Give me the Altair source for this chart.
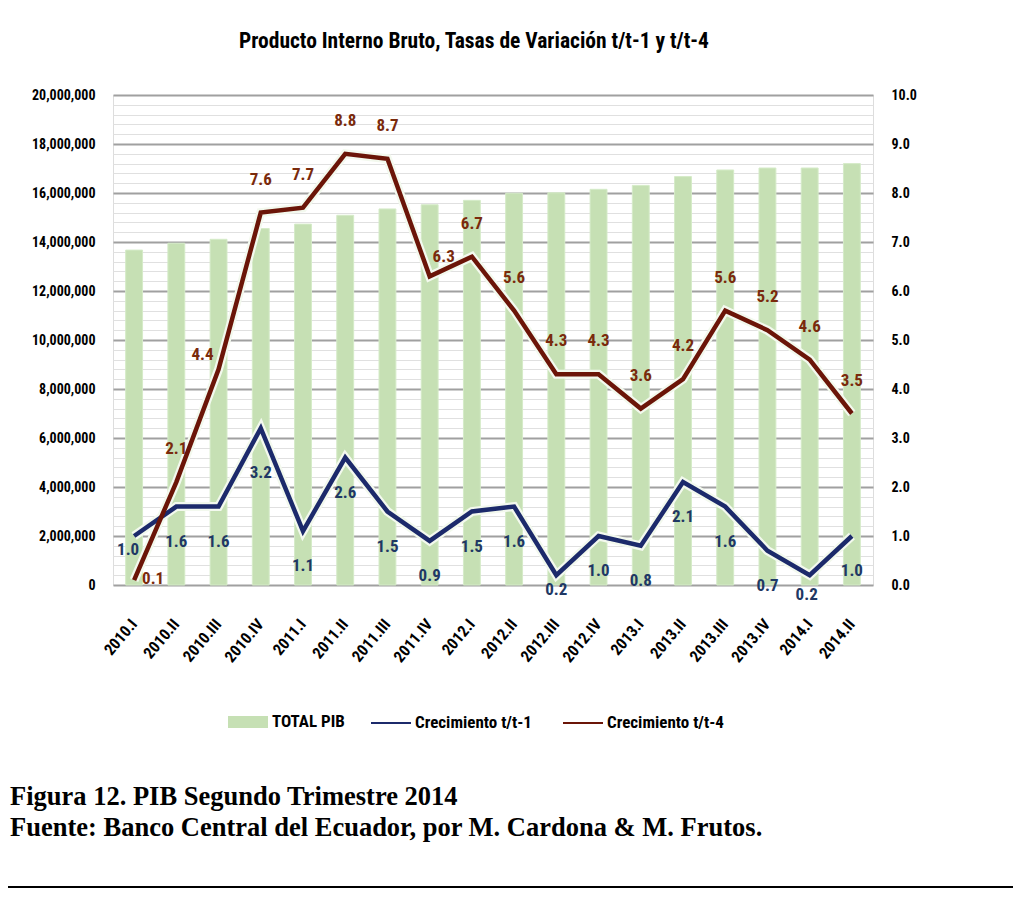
import altair as alt
import pandas as pd

FONT = "Liberation Sans Narrow, Roboto Condensed, Arial Narrow, sans-serif"
SERIF = "Liberation Serif, Times New Roman, serif"

categories = ["2010.I", "2010.II", "2010.III", "2010.IV",
              "2011.I", "2011.II", "2011.III", "2011.IV",
              "2012.I", "2012.II", "2012.III", "2012.IV",
              "2013.I", "2013.II", "2013.III", "2013.IV",
              "2014.I", "2014.II"]
total_pib = [13670000, 13950000, 14110000, 14550000, 14730000, 15090000,
             15350000, 15520000, 15700000, 15990000, 16010000, 16150000,
             16310000, 16670000, 16940000, 17020000, 17020000, 17200000]
crec_t1 = [1.0, 1.6, 1.6, 3.2, 1.1, 2.6, 1.5, 0.9, 1.5, 1.6, 0.2, 1.0,
           0.8, 2.1, 1.6, 0.7, 0.2, 1.0]
crec_t4 = [0.1, 2.1, 4.4, 7.6, 7.7, 8.8, 8.7, 6.3, 6.7, 5.6, 4.3, 4.3,
           3.6, 4.2, 5.6, 5.2, 4.6, 3.5]
series_names = ["Crecimiento t/t-1", "Crecimiento t/t-4"]
bar_name = "TOTAL PIB"
title_text = "Producto Interno Bruto, Tasas  de Variación  t/t-1 y t/t-4"
caption_1 = "Figura 12. PIB Segundo Trimestre 2014"
caption_2 = "Fuente: Banco Central del Ecuador, por M. Cardona & M. Frutos."

NAVY = "#1c2a6b"
DARKRED = "#6b1508"
LBL_RED = "#7a2a0c"
LBL_NAVY = "#1f3864"
GREEN = "#c6e0b4"

df_bar = pd.DataFrame({"cat": categories, "idx": range(len(categories)),
                       "pib": total_pib, "serie": bar_name})
rows = []
for name, vals in zip(series_names, [crec_t1, crec_t4]):
    for i, (c, v) in enumerate(zip(categories, vals)):
        rows.append({"cat": c, "idx": i, "serie": name, "valor": v})
df_lines = pd.DataFrame(rows)

x_enc = alt.X("cat:N", sort=categories,
              scale=alt.Scale(paddingInner=0.6, paddingOuter=0.3),
              axis=alt.Axis(title=None, labelAngle=-50, labelAlign="right",
                            labelBaseline="middle", labelPadding=36,
                            ticks=False, domain=False, labelFont=FONT,
                            labelFontSize=16, labelFontWeight="bold",
                            labelColor="black"))

major = "datum.value % 2000000 === 0"
left_axis = alt.Axis(
    title=None, values=list(range(0, 20000001, 400000)), format=",d",
    labelExpr=f"{major} ? datum.label : ''",
    gridColor={"condition": {"test": major, "value": "#a0a0a0"}, "value": "#e0e0e0"},
    gridWidth={"condition": {"test": major, "value": 1.8}, "value": 1},
    ticks=False, domain=False, labelPadding=18, labelFont=FONT,
    labelFontSize=14, labelFontWeight="bold", labelColor="black")
right_axis = alt.Axis(
    title=None, orient="right", values=list(range(0, 11)), format=".1f",
    grid=False, ticks=False, domain=False, labelPadding=18, labelFont=FONT,
    labelFontSize=14, labelFontWeight="bold", labelColor="black")

y_left = alt.Y("pib:Q", scale=alt.Scale(domain=[0, 20000000], nice=False), axis=left_axis)
y_right = alt.Y("valor:Q", scale=alt.Scale(domain=[0, 10], nice=False), axis=right_axis)

bars = alt.Chart(df_bar).mark_bar(stroke="#d5ebc8", strokeWidth=1).encode(
    x=x_enc, y=y_left,
    fill=alt.Fill("serie:N", scale=alt.Scale(domain=[bar_name], range=[GREEN]),
                  legend=alt.Legend(title=None, orient="none", legendX=115, legendY=607,
                                    direction="horizontal",
                                    symbolType="M-1,-0.3H1V0.3H-1Z", symbolSize=1600,
                                    symbolStrokeWidth=0, labelFont=FONT, labelFontSize=17,
                                    labelFontWeight="bold", labelColor="black",
                                    labelOffset=4)))

halo = alt.Chart(df_lines).mark_line(color="#f3f9ee", strokeWidth=9).encode(
    x=x_enc, y=y_right, detail="serie:N")

lines = alt.Chart(df_lines).mark_line(strokeWidth=4.5, strokeJoin="miter").encode(
    x=x_enc, y=y_right,
    stroke=alt.Stroke("serie:N", scale=alt.Scale(domain=series_names, range=[NAVY, DARKRED]),
                      legend=alt.Legend(title=None, orient="none", legendX=257, legendY=607,
                                        direction="horizontal", symbolSize=1600,
                                        symbolStrokeWidth=2, labelFont=FONT,
                                        labelFontSize=17, labelFontWeight="bold",
                                        labelColor="black", labelOffset=3,
                                        columnPadding=27)))


def label_layer(serie, idxs, dx, dy, color):
    return alt.Chart(df_lines).transform_filter(
        alt.datum.serie == serie
    ).transform_filter(
        alt.FieldOneOfPredicate(field="idx", oneOf=idxs)
    ).mark_text(dx=dx, dy=dy, font=FONT, fontSize=17, fontWeight="bold",
                color=color, baseline="middle").encode(
        x=x_enc, y=y_right, text=alt.Text("valor:Q", format=".1f"))


all_idx = list(range(len(categories)))
t4_special = {0: (19, -1), 2: (-16, -14), 7: (14, -19)}
t1_special = {0: (-6, 14), 3: (0, 45), 10: (0, 15), 16: (-3, 20)}

label_layers = [label_layer(series_names[1], [i for i in all_idx if i not in t4_special], 0, -33, LBL_RED)]
for i, (dx, dy) in t4_special.items():
    label_layers.append(label_layer(series_names[1], [i], dx, dy, LBL_RED))
label_layers.append(label_layer(series_names[0], [i for i in all_idx if i not in t1_special], 0, 35, LBL_NAVY))
for i, (dx, dy) in t1_special.items():
    label_layers.append(label_layer(series_names[0], [i], dx, dy, LBL_NAVY))

right_layer = alt.layer(halo, lines, *label_layers)

cap1 = alt.Chart(pd.DataFrame({"t": [caption_1]})).mark_text(
    font=SERIF, fontSize=26.5, fontWeight="bold", align="left", baseline="middle",
    color="black").encode(x=alt.value(-103), y=alt.value(702), text="t:N")
cap2 = alt.Chart(pd.DataFrame({"t": [caption_2]})).mark_text(
    font=SERIF, fontSize=26.5, fontWeight="bold", align="left", baseline="middle",
    color="black").encode(x=alt.value(-103), y=alt.value(733), text="t:N")
bottom_rule = alt.Chart(pd.DataFrame({"t": [0]})).mark_rule(
    color="black", strokeWidth=2).encode(x=alt.value(-105), x2=alt.value(900),
                                         y=alt.value(792))

chart = alt.layer(bars, right_layer, cap1, cap2, bottom_rule).resolve_scale(
    y="independent", fill="independent", stroke="independent"
).properties(
    width=760, height=490,
    title=alt.Title(title_text, font=FONT, fontSize=21.5, fontWeight="bold",
                    color="black", anchor="middle", dx=-19, offset=36),
    autosize=alt.AutoSizeParams(type="none"),
    padding={"left": 105, "top": 87, "right": 140, "bottom": 303},
).configure_view(stroke=None).configure(background="white")

chart.save("out.html", embed_options={"renderer": "svg", "actions": False})
